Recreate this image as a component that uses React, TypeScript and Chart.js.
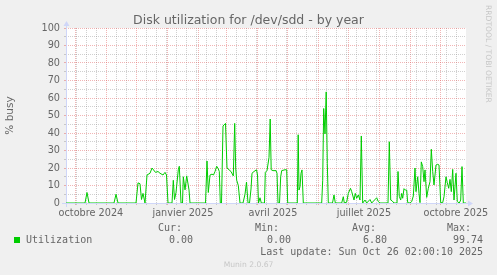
import React, { useEffect, useRef } from "react";
import { Chart, registerables } from "chart.js";

Chart.register(...registerables);

// ---------- text ----------
const TITLE = "Disk utilization for /dev/sdd - by year";
const Y_TITLE = "% busy";
const SERIES_NAME = "Utilization";
const LEGEND_HEADERS = ["Cur:", "Min:", "Avg:", "Max:"];
const LEGEND_VALUES = ["0.00", "0.00", "6.80", "99.74"];
const LAST_UPDATE = "Last update: Sun Oct 26 02:00:10 2025";
const WATERMARK = "Munin 2.0.67";
const SIDE_TEXT = "RRDTOOL / TOBI OETIKER";

// ---------- time window ----------
const RANGE_END = Date.UTC(2025, 9, 26, 2, 0, 10);
const RANGE_DAYS = 400;
const DAY_MS = 86400000;
const RANGE_START = RANGE_END - RANGE_DAYS * DAY_MS;

// month starts that carry a major grid line: [year, monthIndex]
const MONTH_STARTS: [number, number][] = [
  [2024, 9], [2024, 10], [2024, 11], [2025, 0], [2025, 1], [2025, 2], [2025, 3],
  [2025, 4], [2025, 5], [2025, 6], [2025, 7], [2025, 8], [2025, 9],
];
// labelled months (label centred in the middle of the month)
const LABEL_MONTHS: [number, number][] = [[2024, 9], [2025, 0], [2025, 3], [2025, 6], [2025, 9]];
const LABEL_TEXTS = ["octobre 2024", "janvier 2025", "avril 2025", "juillet 2025", "octobre 2025"];
const MINOR_STEP_DAYS = 10;

// ---------- series: day offset from window start, % busy ----------
const DAYS = [
  0, 19, 21, 23, 48, 50, 52, 70, 72, 74, 75.5, 77, 79, 81, 84, 86, 89.5, 92, 94, 97, 99, 100.5, 102,
  106, 107.3, 108.5, 110, 112.3, 113.3, 115, 116.5, 117.3, 119, 120.7, 123, 124,
  139.5, 141, 142.3, 144, 146, 147.5, 149, 150.7, 152.3, 153.3, 154.3, 155.5, 157, 159.5, 161, 163, 165,
  167.3, 168.7, 169.7, 170.7, 172.3, 174, 177, 179, 180.5, 182, 183.5, 185, 186, 188, 190.5, 191.5,
  192.5, 194, 195.3, 198.5, 199.3, 201, 203, 204.2, 205.2, 207, 210, 211, 212, 213.5, 214.7, 215.7,
  219, 220.7, 221.7, 231.3, 232.2, 233, 234, 235, 236, 237.3, 255.7, 256.7, 257.7, 259, 260.2, 261.3,
  262.3, 266.5, 268, 269.3, 275.7, 277.3, 278.3, 280.7, 282.3, 284.5, 285.7, 288, 289.3, 290.7, 292.3,
  294, 295.3, 296.7, 299, 300.7, 304, 305.7, 310.7, 312.3, 314, 322, 323.3, 324.7, 326, 328, 331, 332,
  333.3, 334.7, 335.7, 336.7, 338, 339.3, 340.7, 341.7, 344, 345.7, 347.3, 349, 350, 351.7, 353, 354,
  355.3, 356.7, 358, 359, 360.7, 362.3, 364, 365.3, 366.7, 368, 370, 371.7, 373, 374.7, 376.7, 378,
  380, 381.3, 382.7, 384, 385.3, 386.7, 388, 390, 391.3, 393.3, 394.7, 396, 397.3, 400,
];
const BUSY = [
  0, 0, 6, 0, 0, 5, 0, 0, 11.5, 11, 2, 5.5, 0, 16, 17, 20, 17.5, 18, 17, 16, 17.5, 16, 0,
  0, 13, 2, 6, 19, 21, 0, 0, 15, 7.5, 15.5, 7.5, 0,
  0, 24, 6, 16, 16.5, 16, 18, 21, 19.5, 18, 0, 0, 44, 45.5, 20, 19, 18,
  15.5, 45.5, 20, 13, 10, 0, 0, 5, 12, 0, 0, 8, 17, 18, 19, 16,
  0, 3, 0, 0, 17.5, 18.5, 26, 48, 19, 18.5, 18.5, 17, 0, 0, 15, 18.5,
  19, 19, 0, 0, 39, 7.4, 9.3, 17, 18.9, 0, 0, 13, 54, 39.5, 63.5, 22.7,
  0, 0, 4.6, 0, 0, 3.6, 0, 0.5, 5.5, 8.4, 6.5, 1.7, 5.5, 2.7, 4.6,
  1.7, 38.3, 0, 1.7, 0, 2, 0, 3, 0.8, 0, 0, 35, 1.7, 1.3, 0, 0, 18,
  3.8, 1.7, 5.5, 2.7, 8.2, 7.4, 7.4, 0.2, 0, 0.8, 4, 20, 6.5, 15, 5.5, 0.2,
  23.5, 20.8, 12.2, 18.9, 3.2, 8.4, 12.2, 30.7, 18, 10.3, 21.7, 22.1, 21.7, 0.2, 0.2, 3.6,
  15, 11.6, 8.4, 13.5, 6.5, 19.2, 1.7, 17, 0.8, 0, 1.7, 20.8, 0, 0,
];

const Y_MAX = 100;
const Y_STEP = 5;
const Y_LABEL_STEP = 10;

// ---------- style ----------
const BACK = "#F0F0F0";
const CANVAS = "#FFFFFF";
const FONT_COLOR = "#666666";
const AXIS_COLOR = "#CFD6F8";
const GRID_COLOR = "rgba(143,143,143,0.42)";
const MGRID_COLOR = "rgba(222,79,79,0.42)";
const LINE_COLOR = "#00CC00";
const SANS = '"DejaVu Sans"';
const MONO = '"DejaVu Sans Mono"';

const dayOf = (y: number, m: number, d: number) => (Date.UTC(y, m, d) - RANGE_START) / DAY_MS;

function buildXTicks() {
  const majors = MONTH_STARTS.map(([y, m]) => dayOf(y, m, 1));
  const ticks: any[] = majors.map((v) => ({ value: v, kind: "major", text: "" }));
  LABEL_MONTHS.forEach(([y, m], i) => {
    ticks.push({ value: dayOf(y, m, 1) + 15, kind: "label", text: LABEL_TEXTS[i] });
  });
  const s = new Date(RANGE_START);
  const firstMidnight = (Date.UTC(s.getUTCFullYear(), s.getUTCMonth(), s.getUTCDate() + 1) - RANGE_START) / DAY_MS;
  for (let v = firstMidnight; v <= RANGE_DAYS; v += MINOR_STEP_DAYS) {
    if (majors.some((mj) => Math.abs(mj - v) < 0.6)) continue;
    ticks.push({ value: v, kind: "minor", text: "" });
  }
  return ticks;
}

const rrdPlugin = {
  id: "rrdLook",
  beforeDraw(chart: any) {
    const { ctx, chartArea: a, width, height } = chart;
    ctx.save();
    ctx.fillStyle = BACK;
    ctx.fillRect(0, 0, width, height);
    ctx.fillStyle = CANVAS;
    ctx.fillRect(a.left, a.top, a.right - a.left, a.bottom - a.top);
    ctx.restore();
  },
  beforeDatasetsDraw(chart: any) {
    const { ctx, chartArea: a } = chart;
    const x0 = a.left + 0.5;
    const y0 = a.bottom + 0.5;
    ctx.save();
    ctx.strokeStyle = AXIS_COLOR;
    ctx.lineWidth = 1;
    ctx.beginPath();
    ctx.moveTo(a.left - 4, y0);
    ctx.lineTo(a.right + 4, y0);
    ctx.moveTo(x0, a.bottom + 4);
    ctx.lineTo(x0, a.top - 4);
    ctx.stroke();
    ctx.fillStyle = AXIS_COLOR;
    ctx.beginPath();
    ctx.moveTo(a.right + 2, y0 - 3);
    ctx.lineTo(a.right + 2, y0 + 3);
    ctx.lineTo(a.right + 7, y0);
    ctx.closePath();
    ctx.fill();
    ctx.beginPath();
    ctx.moveTo(x0 - 3, a.top - 2);
    ctx.lineTo(x0 + 3, a.top - 2);
    ctx.lineTo(x0, a.top - 7);
    ctx.closePath();
    ctx.fill();
    ctx.restore();
  },
  afterDraw(chart: any) {
    const { ctx, width } = chart;
    ctx.save();
    // title
    ctx.fillStyle = FONT_COLOR;
    ctx.font = `12.5px ${SANS}`;
    ctx.textAlign = "center";
    ctx.textBaseline = "alphabetic";
    ctx.fillText(TITLE, width / 2, 24);

    // legend
    ctx.font = `10px ${MONO}`;
    ctx.textAlign = "left";
    const headerX = [158, 255, 352, 447];
    LEGEND_HEADERS.forEach((h, i) => ctx.fillText(h, headerX[i], 231));
    ctx.fillStyle = LINE_COLOR;
    ctx.fillRect(14, 237, 6, 6);
    ctx.fillStyle = FONT_COLOR;
    ctx.fillText(SERIES_NAME, 26, 243);
    ctx.textAlign = "right";
    const valueRight = [193, 291, 387, 483];
    LEGEND_VALUES.forEach((v, i) => ctx.fillText(v, valueRight[i], 243));
    ctx.fillText(LAST_UPDATE, 483, 255);

    // watermarks
    ctx.fillStyle = "rgba(102,102,102,0.3)";
    ctx.font = `7.6px ${SANS}`;
    ctx.textAlign = "center";
    ctx.fillText(WATERMARK, width / 2, 267);
    ctx.translate(488, 5);
    ctx.rotate(Math.PI / 2);
    ctx.textAlign = "left";
    ctx.textBaseline = "middle";
    ctx.fillText(SIDE_TEXT, 0, 0);
    ctx.restore();
  },
};

export default function App() {
  const ref = useRef<HTMLCanvasElement | null>(null);

  useEffect(() => {
    if (!ref.current) return;
    const points = DAYS.map((d, i) => ({ x: d, y: BUSY[i] }));
    const chart = new Chart(ref.current, {
      type: "line",
      data: {
        datasets: [
          {
            label: SERIES_NAME,
            data: points,
            borderColor: LINE_COLOR,
            borderWidth: 1,
            pointRadius: 0,
            tension: 0,
            fill: false,
          },
        ],
      },
      options: {
        animation: false,
        responsive: false,
        events: [],
        layout: { padding: { left: 0, top: 28, right: 31, bottom: 0 } },
        plugins: {
          legend: { display: false },
          tooltip: { enabled: false },
          title: { display: false },
        },
        scales: {
          x: {
            type: "linear",
            min: 0,
            max: RANGE_DAYS,
            afterBuildTicks: (scale: any) => {
              scale.ticks = buildXTicks();
            },
            afterFit: (scale: any) => {
              scale.height = 72;
            },
            ticks: {
              autoSkip: false,
              maxRotation: 0,
              minRotation: 0,
              padding: 3,
              color: FONT_COLOR,
              font: { family: SANS, size: 9.7 },
              callback: (_v: any, i: number, ticks: any[]) => ticks[i].text || "",
            },
            grid: {
              drawOnChartArea: true,
              drawTicks: true,
              tickLength: 2,
              lineWidth: 1,
              color: (c: any) =>
                c.tick && c.tick.kind === "major" ? MGRID_COLOR : c.tick && c.tick.kind === "minor" ? GRID_COLOR : "rgba(0,0,0,0)",
              tickColor: (c: any) =>
                c.tick && c.tick.kind === "major" ? MGRID_COLOR : c.tick && c.tick.kind === "minor" ? GRID_COLOR : "rgba(0,0,0,0)",
            },
            border: { display: false, dash: [1, 1] },
          },
          y: {
            type: "linear",
            min: 0,
            max: Y_MAX,
            afterFit: (scale: any) => {
              scale.width = 66;
            },
            ticks: {
              stepSize: Y_STEP,
              autoSkip: false,
              padding: 4,
              color: FONT_COLOR,
              font: { family: SANS, size: 9.7 },
              callback: (v: any) => (Number(v) % Y_LABEL_STEP === 0 ? String(v) : ""),
            },
            grid: {
              drawTicks: true,
              tickLength: 2,
              lineWidth: 1,
              color: (c: any) => (c.tick && c.tick.value % Y_LABEL_STEP === 0 ? MGRID_COLOR : GRID_COLOR),
              tickColor: (c: any) => (c.tick && c.tick.value % Y_LABEL_STEP === 0 ? MGRID_COLOR : GRID_COLOR),
            },
            border: { display: false, dash: [1, 1] },
            title: {
              display: true,
              text: Y_TITLE,
              color: FONT_COLOR,
              font: { family: SANS, size: 10.5 },
            },
          },
        },
      },
      plugins: [rrdPlugin],
    });
    return () => chart.destroy();
  }, []);

  return (
    <div style={{ position: "fixed", left: 0, top: 0, width: 497, height: 275, background: BACK }}>
      <canvas ref={ref} width={497} height={275} style={{ display: "block", width: 497, height: 275 }} />
    </div>
  );
}
